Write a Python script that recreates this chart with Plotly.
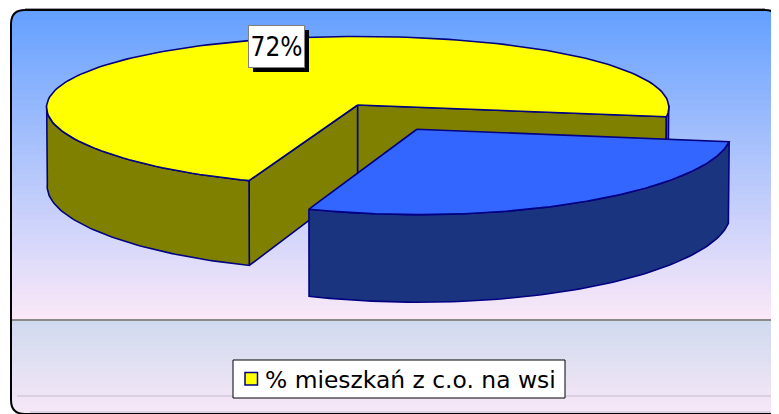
import numpy as np
import plotly.graph_objects as go

# ---------------- data ----------------
categories = ["% mieszkań z c.o. na wsi", "pozostałe"]
values = [72, 28]
explode = [0.0, 0.37]
top_colors = ["#FFFF00", "#3366FF"]
side_colors = ["#808000", "#1B3480"]
legend_shown = [True, False]

# ---------------- 3D pie projection (style) ----------------
W, H_PX = 779, 414
OFF = 8  # page body margin: axis coordinates == page pixels
CX, CY, S = 357.7, 105.0, 311.0
ELEV = np.radians(13.8)
DIST = 11.85     # vertical perspective
DISTX = 30.0     # horizontal perspective (weaker)
THICK = 0.262
START = 250.2  # math degrees, slices go clockwise
OUTLINE = "#000080"


def proj(X, Y, z):
    X = np.asarray(X, float)
    Y = np.asarray(Y, float)
    v = Y * np.sin(ELEV) + z * np.cos(ELEV)
    w = Y * np.cos(ELEV) - z * np.sin(ELEV)
    s = DIST / (DIST + w)
    sx = DISTX / (DISTX + w)
    return CX + S * X * sx, CY - S * v * s


def arc(a_from, a_to, n, ox, oy):
    t = np.radians(np.linspace(a_from, a_to, n))
    return ox + np.cos(t), oy + np.sin(t)


fig = go.Figure()
total = float(sum(values))
a0 = START
slices = []
for i, v in enumerate(values):
    a1 = a0 - 360.0 * v / total
    am = np.radians((a0 + a1) / 2)
    ox, oy = explode[i] * np.cos(am), explode[i] * np.sin(am)
    slices.append((i, a0, a1, ox, oy))
    a0 = a1


def add_poly(xs, ys, fill, name):
    xs = list(xs) + [xs[0]]
    ys = list(ys) + [ys[0]]
    fig.add_trace(go.Scatter(x=xs, y=ys, mode="lines", fill="toself",
                             fillcolor=fill, name=name,
                             line=dict(color=OUTLINE, width=1.6),
                             hoverinfo="skip", showlegend=False))


for (i, a0, a1, ox, oy) in slices:
    side = side_colors[i]
    # cut faces (only those facing the viewer)
    for ang, nrm in ((a0, a0 + 90), (a1, a1 - 90)):
        if np.sin(np.radians(nrm)) < 0:
            rx, ry = ox + np.cos(np.radians(ang)), oy + np.sin(np.radians(ang))
            xt, yt = proj([ox, rx], [oy, ry], 0.0)
            xb, yb = proj([rx, ox], [ry, oy], -THICK)
            add_poly(list(xt) + list(xb), list(yt) + list(yb), side, categories[i])
    # curved outer wall (front facing part)
    for k in (-2, -1, 0, 1):
        lo, hi = 180 + 360 * k, 360 + 360 * k
        s0, s1 = max(lo, a1), min(hi, a0)
        if s1 > s0:
            X, Y = arc(s0, s1, 80, ox, oy)
            xt, yt = proj(X, Y, 0.0)
            xb, yb = proj(X[::-1], Y[::-1], -THICK)
            add_poly(list(xt) + list(xb), list(yt) + list(yb), side, categories[i])
    # top face
    X, Y = arc(a0, a1, 160, ox, oy)
    X = np.concatenate([[ox], X])
    Y = np.concatenate([[oy], Y])
    xt, yt = proj(X, Y, 0.0)
    add_poly(xt, yt, top_colors[i], categories[i])


# ---------------- background gradient ----------------
def mix(c1, c2, t):
    a = [int(c1[j:j + 2], 16) for j in (1, 3, 5)]
    b = [int(c2[j:j + 2], 16) for j in (1, 3, 5)]
    return "rgb(%d,%d,%d)" % tuple(round(a[k] + (b[k] - a[k]) * t) for k in range(3))


shapes = []
L, T, R, B = 11, 10, 779, 414
n = 62
edges = np.linspace(T, 320, n + 1)
for j in range(n):
    t = j / (n - 1)
    shapes.append(dict(type="rect", xref="x", yref="y", x0=L, x1=R + 10,
                       y0=edges[j], y1=edges[j + 1] + 0.6, layer="below",
                       fillcolor=mix("#63A0FF", "#FAE8F8", t ** 0.95),
                       line=dict(width=0)))
n2 = 20
edges2 = np.linspace(320, B + 10, n2 + 1)
for j in range(n2):
    t = j / (n2 - 1)
    shapes.append(dict(type="rect", xref="x", yref="y", x0=L, x1=R + 10,
                       y0=edges2[j], y1=edges2[j + 1] + 0.6, layer="below",
                       fillcolor=mix("#D0DAEE", "#FAE8F8", t),
                       line=dict(width=0)))
# corner masks (white outside rounded corners)
r = 14
shapes.append(dict(type="path", xref="x", yref="y", layer="below",
                   path=f"M{L},{T} L{L + r},{T} Q{L},{T} {L},{T + r} Z",
                   fillcolor="white", line=dict(width=0)))
shapes.append(dict(type="path", xref="x", yref="y", layer="below",
                   path=f"M{R},{T} L{R - r},{T} Q{R},{T} {R},{T + r} L{R + 20},{T + r} L{R + 20},{T - 5} Z",
                   fillcolor="white", line=dict(width=0)))
shapes.append(dict(type="path", xref="x", yref="y", layer="below",
                   path=f"M{L},{B} L{L + r},{B} Q{L},{B} {L},{B - r} Z",
                   fillcolor="white", line=dict(width=0)))
# separator and faint lines
shapes.append(dict(type="line", xref="x", yref="y", x0=L, x1=R + 10, y0=320, y1=320,
                   layer="below", line=dict(color="#8A8A8A", width=2)))
shapes.append(dict(type="line", xref="x", yref="y", x0=17, x1=772, y0=396, y1=396,
                   layer="below", line=dict(color="#C4BCCC", width=1)))
shapes.append(dict(type="line", xref="x", yref="y", x0=30, x1=772, y0=412, y1=412,
                   layer="below", line=dict(color="#C4BCCC", width=1)))
# rounded border
shapes.append(dict(type="path", xref="x", yref="y", layer="above",
                   path=(f"M{L},{B - r} L{L},{T + r} Q{L},{T} {L + r},{T} "
                         f"L{R - r},{T} Q{R},{T} {R},{T + r} L{R},{B} "
                         f"M{L},{B - r} Q{L},{B} {L + r},{B} L{R},{B}"),
                   line=dict(color="black", width=2)))
shapes.append(dict(type="line", xref="x", yref="y", x0=L + r, x1=R - r, y0=T - 1.5, y1=T - 1.5,
                   layer="above", line=dict(color="#A0A0A0", width=1)))
# label shadow
shapes.append(dict(type="rect", xref="x", yref="y", x0=253, x1=309, y0=30, y1=72,
                   layer="above", fillcolor="black", line=dict(width=0)))

# ---------------- legend (drawn as box + key + text) ----------------
LG_X0, LG_X1, LG_Y0, LG_Y1 = 233, 565, 360, 398
shapes.append(dict(type="rect", xref="x", yref="y", x0=LG_X0, x1=LG_X1,
                   y0=LG_Y0, y1=LG_Y1, layer="above", fillcolor="white",
                   line=dict(color="black", width=1)))
annotations = []
row = 0
for i, name in enumerate(categories):
    if not legend_shown[i]:
        continue
    yc = (LG_Y0 + LG_Y1) / 2 + row * 38
    shapes.append(dict(type="rect", xref="x", yref="y", x0=245, x1=257.5,
                       y0=yc - 6.5, y1=yc + 6, layer="above",
                       fillcolor=top_colors[i],
                       line=dict(color=OUTLINE, width=1.5)))
    annotations.append(dict(x=262.5, y=yc + 0.5, xref="x", yref="y", xanchor="left",
                            yanchor="middle", showarrow=False, text=name,
                            font=dict(family="DejaVu Sans", size=23.4,
                                      color="black")))
    row += 1

annotations.append(dict(x=276, y=46, xref="x", yref="y", showarrow=False,
                        text=f"{values[0]}%", bgcolor="white",
                        bordercolor="#808080", borderwidth=1,
                        width=53, height=39,
                        font=dict(family="DejaVu Sans Condensed, DejaVu Sans",
                                  size=26, color="black")))

fig.update_layout(
    width=W, height=H_PX,
    margin=dict(l=0, r=0, t=0, b=0),
    paper_bgcolor="white", plot_bgcolor="white",
    xaxis=dict(range=[OFF, W + OFF], visible=False, fixedrange=True),
    yaxis=dict(range=[H_PX + OFF, OFF], visible=False, fixedrange=True),
    shapes=shapes,
    showlegend=False,
    annotations=annotations,
)

fig.write_html("out.html")
